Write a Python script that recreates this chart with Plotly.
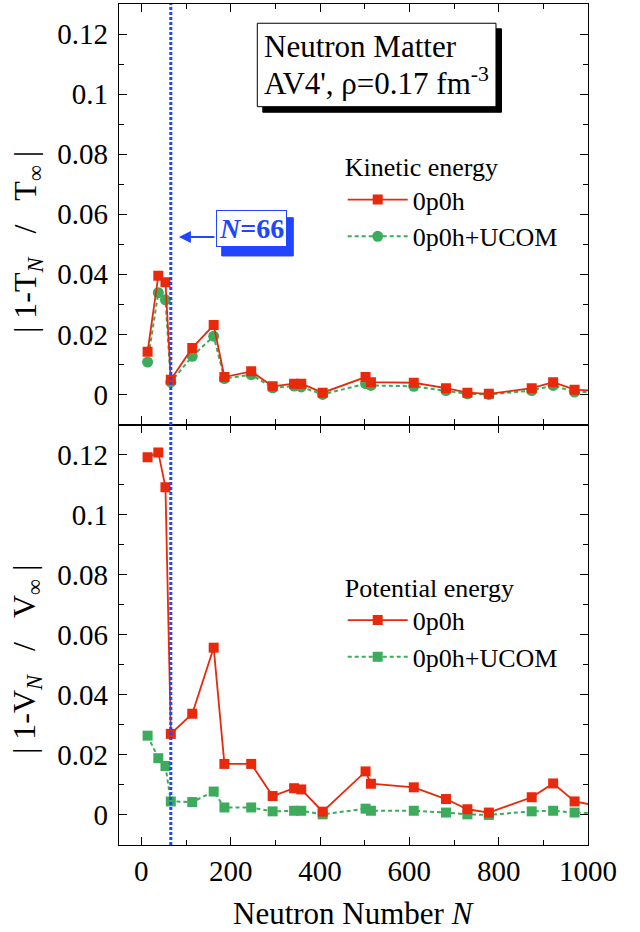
import plotly.graph_objects as go

# ---------------- data ----------------
neutron_number = [14, 38, 54, 66, 114, 162, 186, 246, 294, 342, 358, 406,
                  502, 514, 610, 682, 730, 778, 874, 922, 970, 1030]

kinetic_0p0h = [0.0142, 0.0395, 0.0374, 0.0049, 0.0155, 0.0231, 0.0058, 0.0077,
                0.0027, 0.0036, 0.0036, 0.0006, 0.0058, 0.0041, 0.0039, 0.0021,
                0.0006, 0.0002, 0.0021, 0.0041, 0.0016, 0.0011]
kinetic_ucom = [0.0108, 0.0339, 0.0315, 0.0041, 0.0127, 0.0194, 0.0053, 0.0066,
                0.0022, 0.0028, 0.0025, 0.0000, 0.0036, 0.0030, 0.0027, 0.0013,
                0.0002, 0.0000, 0.0013, 0.0030, 0.0008, 0.0008]

potential_0p0h = [0.1191, 0.1207, 0.1091, 0.0270, 0.0337, 0.0557, 0.0170, 0.0170,
                  0.0063, 0.0089, 0.0085, 0.0011, 0.0145, 0.0104, 0.0092, 0.0053,
                  0.0019, 0.0008, 0.0059, 0.0105, 0.0045, 0.0028]
potential_ucom = [0.0264, 0.0189, 0.0163, 0.0045, 0.0043, 0.0078, 0.0025, 0.0025,
                  0.0012, 0.0014, 0.0014, 0.0002, 0.0021, 0.0014, 0.0014, 0.0008,
                  0.0002, 0.0000, 0.0012, 0.0014, 0.0008, 0.0005]

y_tickvals = [0, 0.02, 0.04, 0.06, 0.08, 0.1, 0.12]
y_ticktext = ["0", "0.02", "0.04", "0.06", "0.08", "0.1", "0.12"]
x_tickvals = [0, 200, 400, 600, 800, 1000]
x_ticktext = ["0", "200", "400", "600", "800", "1000"]
closed_shell_N = 66

# ---------------- style ----------------
FONT = "Liberation Serif"
RED = "#e8290b"
GREEN = "#3cac5c"
BLUE = "#1f45ff"
NB = "\u00a0"

fig = go.Figure()

# top panel (kinetic) -> x2 / y2
fig.add_trace(go.Scatter(
    x=neutron_number, y=kinetic_ucom, mode="lines+markers", name="0p0h+UCOM",
    line=dict(color=GREEN, width=2, dash="4px,3px"),
    marker=dict(symbol="circle", size=11, color=GREEN),
    xaxis="x2", yaxis="y2", legend="legend", legendrank=2))
fig.add_trace(go.Scatter(
    x=neutron_number, y=kinetic_0p0h, mode="lines+markers", name="0p0h",
    line=dict(color=RED, width=1.8),
    marker=dict(symbol="square", size=10, color=RED),
    xaxis="x2", yaxis="y2", legend="legend", legendrank=1))

# bottom panel (potential) -> x / y
fig.add_trace(go.Scatter(
    x=neutron_number, y=potential_ucom, mode="lines+markers", name="0p0h+UCOM",
    line=dict(color=GREEN, width=2, dash="4px,3px"),
    marker=dict(symbol="square", size=10, color=GREEN),
    xaxis="x", yaxis="y", legend="legend2", legendrank=2))
fig.add_trace(go.Scatter(
    x=neutron_number, y=potential_0p0h, mode="lines+markers", name="0p0h",
    line=dict(color=RED, width=1.8),
    marker=dict(symbol="square", size=10, color=RED),
    xaxis="x", yaxis="y", legend="legend2", legendrank=1))

axis_common = dict(
    showline=True, linecolor="black", linewidth=1.3, mirror="ticks",
    ticks="inside", ticklen=8, tickwidth=1.3, tickcolor="black",
    showgrid=False, zeroline=False, automargin=False,
    tickfont=dict(family=FONT, size=29, color="black"),
)

xcommon = dict(axis_common, range=[-50, 1000], tickmode="array",
               tickvals=x_tickvals, ticktext=x_ticktext,
               minor=dict(ticks="inside", ticklen=5, dtick=100, tick0=0,
                          tickcolor="black", tickwidth=1.3, showgrid=False))
ycommon = dict(axis_common, range=[-0.01, 0.13], tickmode="array",
               tickvals=y_tickvals, ticktext=y_ticktext, ticklabelstandoff=4,
               minor=dict(ticks="inside", ticklen=5, dtick=0.01, tick0=0,
                          tickcolor="black", tickwidth=1.3, showgrid=False))

fig.update_layout(
    width=640, height=932,
    margin=dict(l=119, r=52, t=4, b=87, autoexpand=False),
    paper_bgcolor="white", plot_bgcolor="white",
    font=dict(family=FONT, color="black"),
    xaxis=dict(xcommon, domain=[0, 1], anchor="y"),
    yaxis=dict(ycommon, domain=[0, 0.5], anchor="x"),
    xaxis2=dict(xcommon, domain=[0, 1], anchor="y2", matches="x",
                showticklabels=False),
    yaxis2=dict(ycommon, domain=[0.5, 1], anchor="x2"),
    legend=dict(x=0.477, y=0.8355, xanchor="left", yanchor="top",
                bgcolor="rgba(0,0,0,0)", borderwidth=0, itemwidth=60,
                font=dict(family=FONT, size=26),
                title=dict(text="Kinetic energy", font=dict(family=FONT, size=26)),
                tracegroupgap=0),
    legend2=dict(x=0.477, y=0.3355, xanchor="left", yanchor="top",
                 bgcolor="rgba(0,0,0,0)", borderwidth=0, itemwidth=60,
                 font=dict(family=FONT, size=26),
                 title=dict(text="Potential energy", font=dict(family=FONT, size=26)),
                 tracegroupgap=0),
    showlegend=True,
)

# vertical dotted line at N = 66 spanning both panels
fig.add_shape(type="line", xref="x", yref="paper",
              x0=closed_shell_N, x1=closed_shell_N, y0=0, y1=1,
              line=dict(color=BLUE, width=3, dash="3px,2px"))

# info box (frame + black shadow) and its two text lines
fig.add_shape(type="rect", xref="paper", yref="paper",
              x0=0.2949 + 0.0117, x1=0.8038 + 0.0117,
              y0=0.8779 - 0.0066, y1=0.9771 - 0.0066,
              line=dict(color="black", width=1), fillcolor="black")
fig.add_shape(type="rect", xref="paper", yref="paper",
              x0=0.2949, x1=0.8038, y0=0.8779, y1=0.9771,
              line=dict(color="black", width=1), fillcolor="white")
fig.add_annotation(xref="paper", yref="paper", x=0.3042, y=0.9493,
                   xanchor="left", yanchor="middle", showarrow=False,
                   text="Neutron Matter",
                   font=dict(family=FONT, size=31, color="black"))
fig.add_annotation(xref="paper", yref="paper", x=0.3042, y=0.9077,
                   xanchor="left", yanchor="middle", showarrow=False,
                   text="AV4', ρ=0.17 fm<sup>-3</sup>",
                   font=dict(family=FONT, size=31, color="black"))

# N=66 label: blue shadow block, boxed label, arrow
fig.add_shape(type="rect", xref="paper", yref="paper",
              x0=0.219, x1=0.3716, y0=0.7004, y1=0.7459,
              line=dict(color=BLUE, width=1), fillcolor=BLUE)
fig.add_annotation(xref="x2", yref="y2", x=246.5, y=0.0554,
                   text="<b><i>N</i>=66</b>",
                   xanchor="center", yanchor="middle",
                   showarrow=False, font=dict(family=FONT, size=28, color=BLUE),
                   bgcolor="white", bordercolor=BLUE, borderwidth=1, borderpad=2)
fig.add_annotation(xref="x2", yref="y2", x=84, y=0.0524, text="",
                   showarrow=True, ax=37, ay=0, axref="pixel", ayref="pixel",
                   arrowhead=2, arrowsize=1.2, arrowwidth=2, arrowcolor=BLUE)

# axis titles
sp = NB * 3
fig.add_annotation(xref="paper", yref="paper", x=-0.196, y=0.717,
                   xanchor="center", yanchor="middle",
                   text="|" + NB + "1-T<sub><i>N</i></sub>" + sp + "/" + sp
                        + "T<sub>∞</sub>" + NB + "|",
                   textangle=-90, showarrow=False,
                   font=dict(family=FONT, size=32, color="black"))
fig.add_annotation(xref="paper", yref="paper", x=-0.196, y=0.22,
                   xanchor="center", yanchor="middle",
                   text="|" + NB + "1-V<sub><i>N</i></sub>" + sp + "/" + sp
                        + "V<sub>∞</sub>" + NB + "|",
                   textangle=-90, showarrow=False,
                   font=dict(family=FONT, size=32, color="black"))
fig.add_annotation(xref="paper", yref="paper", x=0.5, y=-0.082,
                   xanchor="center", yanchor="middle",
                   text="Neutron Number <i>N</i>", showarrow=False,
                   font=dict(family=FONT, size=31, color="black"))

fig.write_html("out.html",
               config={"displayModeBar": False},
               post_script="document.body.style.margin='0';"
                           "document.body.style.padding='0';")
